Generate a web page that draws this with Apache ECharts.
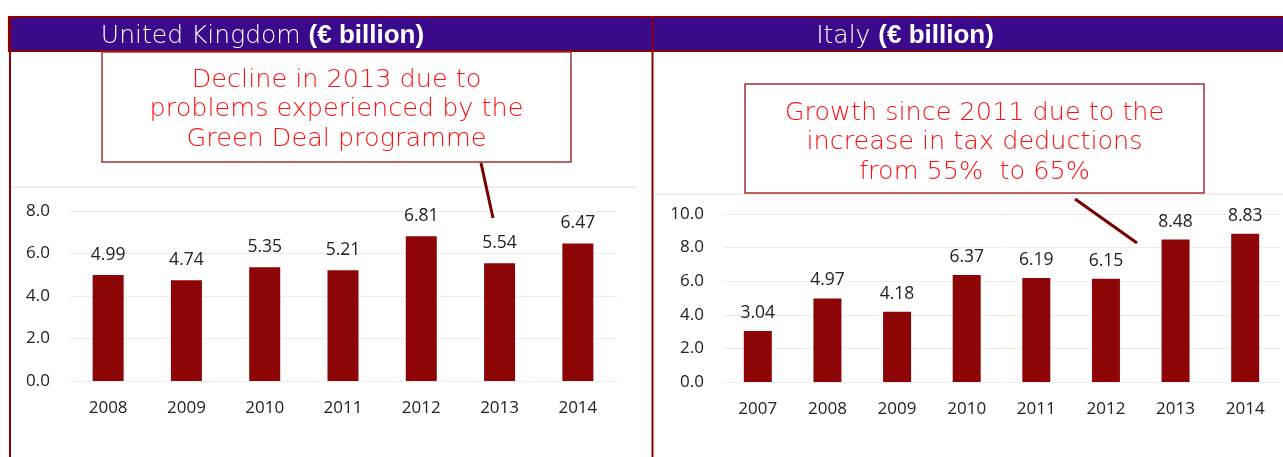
<!DOCTYPE html>
<html>
<head>
<meta charset="utf-8">
<script src="https://cdn.jsdelivr.net/npm/echarts@6/dist/echarts.min.js"></script>
<style>
html,body{margin:0;padding:0;background:#fff;}
#c{width:1283px;height:457px;}
</style>
</head>
<body>
<div id="c"></div>
<script>
// ---- data ----
const ukYears = ['2008', '2009', '2010', '2011', '2012', '2013', '2014'];
const ukValues = [4.99, 4.74, 5.35, 5.21, 6.81, 5.54, 6.47];
const itYears = ['2007', '2008', '2009', '2010', '2011', '2012', '2013', '2014'];
const itValues = [3.04, 4.97, 4.18, 6.37, 6.19, 6.15, 8.48, 8.83];
const ukTicks = [0, 2, 4, 6, 8];
const itTicks = [0, 2, 4, 6, 8, 10];
const ukTitle = ['United Kingdom ', '(€ billion)'];
const itTitle = ['Italy ', '(€ billion)'];
const ukNote = 'Decline in 2013 due to\nproblems experienced by the\nGreen Deal programme';
const itNote = 'Growth since 2011 due to the\nincrease in tax deductions\nfrom 55%  to 65%';

const BAR = '#8E0508';
const DARK = '#8B0000';
const PURPLE = '#3B0A8C';
const labelFont = "'Open Sans', 'Noto Sans', sans-serif";
const noteFont = "'DejaVu Sans ExtraLight', 'DejaVu Sans Light', 'DejaVu Sans', sans-serif";

const chart = echarts.init(document.getElementById('c'), null, {renderer: 'canvas'});

function yAxis(idx, ticks) {
  return {
    type: 'value', gridIndex: idx, min: ticks[0], max: ticks[ticks.length - 1], interval: ticks[1] - ticks[0],
    axisLine: {show: false}, axisTick: {show: false},
    splitLine: {show: true, lineStyle: {color: '#ededed', width: 1}},
    axisLabel: {margin: 19, color: '#222222', fontSize: 17, fontFamily: labelFont,
      formatter: v => v.toFixed(1)}
  };
}
function xAxis(idx, cats) {
  return {
    type: 'category', gridIndex: idx, data: cats,
    axisLine: {show: true, lineStyle: {color: '#eeeeee'}}, axisTick: {show: false},
    axisLabel: {margin: 19, color: '#222222', fontSize: 17, fontFamily: labelFont}
  };
}
function barSeries(idx, vals, w, dist) {
  return {
    type: 'bar', xAxisIndex: idx, yAxisIndex: idx, data: vals, barWidth: w,
    itemStyle: {color: BAR},
    label: {show: true, position: 'top', distance: dist, color: '#222222', fontSize: 17.5,
      fontFamily: labelFont, formatter: p => p.value.toFixed(2)}
  };
}
function titleText(x, parts) {
  return {
    type: 'text', x: x, y: 36, z: 20,
    style: {
      text: '{a|' + parts[0] + '}{b|' + parts[1] + '}',
      align: 'center', verticalAlign: 'middle',
      rich: {
        a: {fontFamily: noteFont, fontSize: 25, fill: '#ffffff', color: '#ffffff'},
        b: {fontFamily: "'Liberation Sans', Arial, sans-serif", fontWeight: 'bold', fontSize: 26, fill: '#ffffff', color: '#ffffff'}
      }
    }
  };
}
function noteBox(x1, y1, x2, y2, text, cy) {
  return [
    {type: 'rect', z: 15, shape: {x: x1, y: y1, width: x2 - x1, height: y2 - y1},
      style: {fill: '#ffffff', stroke: '#A3302F', lineWidth: 1.5}},
    {type: 'text', z: 16, x: (x1 + x2) / 2, y: cy,
      style: {text: text, align: 'center', verticalAlign: 'middle', fontFamily: noteFont,
        fontSize: 25.5, lineHeight: 29.5, fill: '#FF1010'}}
  ];
}

const option = {
  animation: false,
  backgroundColor: '#ffffff',
  grid: [
    {left: 69, right: 666, top: 211, bottom: 76},
    {left: 723, right: 3, top: 214, bottom: 75}
  ],
  xAxis: [xAxis(0, ukYears), xAxis(1, itYears)],
  yAxis: [yAxis(0, ukTicks), yAxis(1, itTicks)],
  series: [barSeries(0, ukValues, 31, 11), barSeries(1, itValues, 28, 9)],
  graphic: [
    // chart image top edges
    {type: 'line', z: 1, shape: {x1: 11, y1: 187, x2: 637, y2: 187}, style: {stroke: '#dcdcdc', lineWidth: 1}},
    {type: 'line', z: 1, shape: {x1: 654, y1: 194, x2: 1283, y2: 194}, style: {stroke: '#dcdcdc', lineWidth: 1}},
    // header bar
    {type: 'rect', z: 10, shape: {x: 9, y: 17, width: 1290, height: 34},
      style: {fill: PURPLE, stroke: DARK, lineWidth: 2.2}},
    // vertical frame lines
    {type: 'line', z: 11, shape: {x1: 10, y1: 17, x2: 10, y2: 457}, style: {stroke: DARK, lineWidth: 2}},
    {type: 'line', z: 11, shape: {x1: 652.5, y1: 17, x2: 652.5, y2: 457}, style: {stroke: DARK, lineWidth: 2}},
    titleText(262.5, ukTitle),
    titleText(905, itTitle),
    ...noteBox(102, 52, 571, 162, ukNote, 109.5),
    ...noteBox(745, 84, 1204, 193, itNote, 142.5),
    // pointer lines
    {type: 'line', z: 17, shape: {x1: 481, y1: 163, x2: 493, y2: 218}, style: {stroke: '#7A0000', lineWidth: 3}},
    {type: 'line', z: 17, shape: {x1: 1075, y1: 199, x2: 1137, y2: 243}, style: {stroke: '#7A0000', lineWidth: 3}}
  ]
};
chart.setOption(option);
</script>
</body>
</html>
